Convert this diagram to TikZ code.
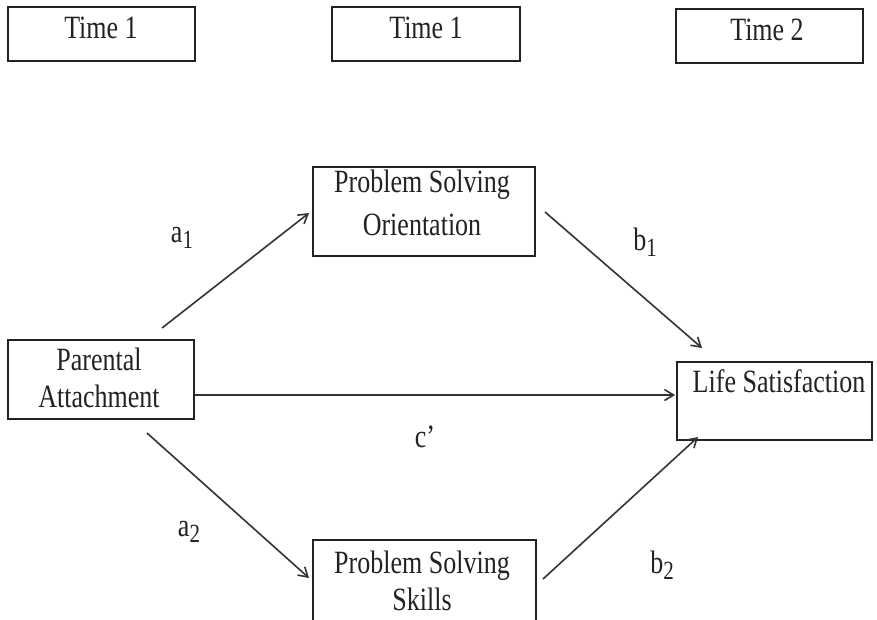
\documentclass[tikz,border=0pt]{standalone}
\usepackage{fontspec}
\setmainfont{Liberation Serif}
\usepackage{graphicx}
\usetikzlibrary{arrows.meta}
\newcommand{\vs}[1]{\scalebox{1}[1.25]{#1}}
\newcommand{\sub}[1]{\raisebox{-5pt}{\fontsize{21}{21}\selectfont #1}}
\definecolor{ink}{HTML}{222222}
\definecolor{lineclr}{HTML}{333333}
\tikzset{
  box/.style={draw=ink, line width=2pt, inner sep=0pt, fill=none},
  txt/.style={inner sep=0pt, anchor=base, font=\fontsize{26}{26}\selectfont, text=ink},
  lbl/.style={inner sep=0pt, font=\fontsize{26}{26}\selectfont, text=ink},
  path/.style={draw=lineclr, line width=1.6pt, -{Straight Barb[length=9pt,width=11pt,line width=1.6pt]}}
}
\begin{document}
\begin{tikzpicture}[x=1pt,y=-1pt]
\useasboundingbox (0,0) rectangle (877,619);
% time boxes
\node[box, minimum width=187pt, minimum height=54pt] (t1) at (101.5,34) {};
\node[box, minimum width=188pt, minimum height=54pt] (t2) at (426,34) {};
\node[box, minimum width=187pt, minimum height=54pt] (t3) at (769.5,36) {};
\node[txt] (t1t) at (101,38) {\vs{Time 1}};
\node[txt] (t2t) at (426,38) {\vs{Time 1}};
\node[txt] (t3t) at (767,40) {\vs{Time 2}};
% main boxes
\node[box, minimum width=186pt, minimum height=79pt] (pa) at (101,379.5) {};
\node[box, minimum width=222pt, minimum height=89pt] (pso) at (424,211.5) {};
\node[box, minimum width=195pt, minimum height=78pt] (ls) at (774.5,401) {};
\node[box, minimum width=223pt, minimum height=90pt] (pss) at (424.5,585) {};
\node[txt] (pa1) at (99,370) {\vs{Parental}};
\node[txt] (pa2) at (99,407) {\vs{Attachment}};
\node[txt] (pso1) at (422,192) {\vs{Problem Solving}};
\node[txt] (pso2) at (422,235) {\vs{Orientation}};
\node[txt] (ls1) at (779,392) {\vs{Life Satisfaction}};
\node[txt] (pss1) at (422,573) {\vs{Problem Solving}};
\node[txt] (pss2) at (422,610) {\vs{Skills}};
% connector ends
\coordinate (a1s) at (162,328);
\coordinate (a1e) at (309,213);
\coordinate (cs) at (195,395);
\coordinate (ce) at (675,395);
\coordinate (a2s) at (147,433);
\coordinate (a2e) at (309,578);
\coordinate (b1s) at (545,212);
\coordinate (b1e) at (702,348);
\coordinate (b2s) at (543,579);
\coordinate (b2e) at (698,437);
\draw[path] (a1s) -- (a1e);
\draw[path] (cs) -- (ce);
\draw[path] (a2s) -- (a2e);
\draw[path] (b1s) -- (b1e);
\draw[path] (b2s) -- (b2e);
% labels
\node[lbl] (la1) at (182,238) {\vs{a\sub{1}}};
\node[lbl] (lb1) at (645,242) {\vs{b\sub{1}}};
\node[lbl] (lc) at (425,437) {\vs{c’}};
\node[lbl] (la2) at (189,532) {\vs{a\sub{2}}};
\node[lbl] (lb2) at (662,565) {\vs{b\sub{2}}};
\end{tikzpicture}
\end{document}
